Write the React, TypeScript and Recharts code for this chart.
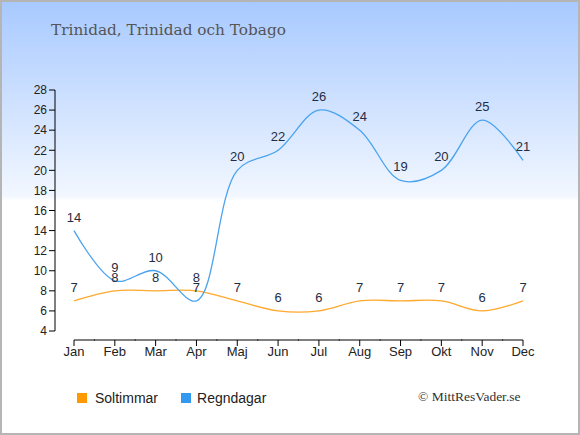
import React from "react";
import { LineChart, Line, XAxis, YAxis, LabelList } from "recharts";

const months = ["Jan", "Feb", "Mar", "Apr", "Maj", "Jun", "Jul", "Aug", "Sep", "Okt", "Nov", "Dec"];
const soltimmar = [7, 8, 8, 8, 7, 6, 6, 7, 7, 7, 6, 7];
const regndagar = [14, 9, 10, 7, 20, 22, 26, 24, 19, 20, 25, 21];
const yTicks = [4, 6, 8, 10, 12, 14, 16, 18, 20, 22, 24, 26, 28];

const data = months.map((m, i) => ({ month: m, sol: soltimmar[i], regn: regndagar[i] }));

const ORANGE_LINE = "#ffa92e";
const BLUE_LINE = "#4aa3ee";
const ORANGE_BOX = "#ff9900";
const BLUE_BOX = "#3399ee";
const LABEL_COLOR = "#1f2d45";

// Centripetal Catmull-Rom curve factory (alpha = 0.5)
function catmullRomCurve(context: any) {
  let pts: [number, number][] = [];
  const alpha = 0.5;
  const eps = 1e-12;
  return {
    areaStart() {},
    areaEnd() {},
    lineStart() {
      pts = [];
    },
    point(x: number, y: number) {
      pts.push([+x, +y]);
    },
    lineEnd() {
      const n = pts.length;
      if (!n) return;
      context.moveTo(pts[0][0], pts[0][1]);
      if (n === 1) return;
      if (n === 2) {
        context.lineTo(pts[1][0], pts[1][1]);
        return;
      }
      const d2a = (p: [number, number], q: [number, number]) => {
        const dx = p[0] - q[0];
        const dy = p[1] - q[1];
        return Math.pow(dx * dx + dy * dy, alpha);
      };
      for (let i = 0; i < n - 1; i++) {
        const p0 = i > 0 ? pts[i - 1] : null;
        const p1 = pts[i];
        const p2 = pts[i + 1];
        const p3 = i + 2 < n ? pts[i + 2] : null;
        const l12_2a = d2a(p1, p2);
        const l12_a = Math.sqrt(l12_2a);
        let c1x = p1[0];
        let c1y = p1[1];
        let c2x = p2[0];
        let c2y = p2[1];
        if (p0) {
          const l01_2a = d2a(p0, p1);
          const l01_a = Math.sqrt(l01_2a);
          if (l01_a > eps) {
            const a = 2 * l01_2a + 3 * l01_a * l12_a + l12_2a;
            const nn = 3 * l01_a * (l01_a + l12_a);
            c1x = (p1[0] * a - p0[0] * l12_2a + p2[0] * l01_2a) / nn;
            c1y = (p1[1] * a - p0[1] * l12_2a + p2[1] * l01_2a) / nn;
          }
        }
        if (p3) {
          const l23_2a = d2a(p2, p3);
          const l23_a = Math.sqrt(l23_2a);
          if (l23_a > eps) {
            const b = 2 * l23_2a + 3 * l23_a * l12_a + l12_2a;
            const m = 3 * l23_a * (l23_a + l12_a);
            c2x = (p2[0] * b + p1[0] * l23_2a - p3[0] * l12_2a) / m;
            c2y = (p2[1] * b + p1[1] * l23_2a - p3[1] * l12_2a) / m;
          }
        }
        context.bezierCurveTo(c1x, c1y, c2x, c2y, p2[0], p2[1]);
      }
    },
  };
}

const XTick = (props: any) => {
  const { x, y, payload, index } = props;
  const count = months.length;
  const half = 21;
  const ay = y + 9;
  const x1 = index === 0 ? x : x - half;
  const x2 = index === count - 1 ? x : x + half;
  return (
    <g>
      <line x1={x1} y1={ay} x2={x2} y2={ay} stroke="#000" strokeWidth={1} />
      <line x1={x} y1={ay} x2={x} y2={ay + 6} stroke="#000" strokeWidth={1} />
      <text
        x={x}
        y={y + 25}
        textAnchor="middle"
        fill="#222"
        fontSize={13}
        fontFamily="'Liberation Sans', Arial, sans-serif"
      >
        {payload.value}
      </text>
    </g>
  );
};

export default function App() {
  return (
    <div
      style={{
        position: "fixed",
        left: 0,
        top: 0,
        width: 580,
        height: 435,
        background: "linear-gradient(180deg, #a7c9ff 0px, #f2f7ff 196px, #ffffff 201px)",
        overflow: "hidden",
      }}
    >
      <div
        style={{
          position: "absolute",
          left: 51,
          top: 20,
          fontFamily: "'DejaVu Serif', serif",
          fontSize: 15.3,
          color: "#555",
          whiteSpace: "nowrap",
          lineHeight: "20px",
        }}
      >
        Trinidad, Trinidad och Tobago
      </div>

      <div style={{ position: "absolute", left: 0, top: 0 }}>
        <LineChart
          width={580}
          height={435}
          data={data}
          margin={{ top: 90, right: 38, left: 0, bottom: 74 }}
        >
          <XAxis
            dataKey="month"
            axisLine={false}
            tickLine={false}
            tickSize={0}
            tickMargin={0}
            height={30}
            padding={{ left: 19, right: 19 }}
            tick={<XTick />}
            interval={0}
          />
          <YAxis
            width={55}
            domain={[4, 28]}
            ticks={yTicks}
            interval={0}
            axisLine={{ stroke: "#000" }}
            tickLine={{ stroke: "#000" }}
            tickSize={6}
            tickMargin={2}
            tick={{ fill: "#222", fontSize: 12, fontFamily: "'Liberation Sans', Arial, sans-serif" }}
          />
          <Line
            dataKey="sol"
            type={catmullRomCurve as any}
            stroke={ORANGE_LINE}
            strokeWidth={1.3}
            dot={false}
            activeDot={false}
            isAnimationActive={false}
          >
            <LabelList
              dataKey="sol"
              position="top"
              offset={9}
              fill={LABEL_COLOR}
              fontSize={13}
              fontFamily="'Liberation Sans', Arial, sans-serif"
            />
          </Line>
          <Line
            dataKey="regn"
            type={catmullRomCurve as any}
            stroke={BLUE_LINE}
            strokeWidth={1.3}
            dot={false}
            activeDot={false}
            isAnimationActive={false}
          >
            <LabelList
              dataKey="regn"
              position="top"
              offset={9}
              fill={LABEL_COLOR}
              fontSize={13}
              fontFamily="'Liberation Sans', Arial, sans-serif"
            />
          </Line>
        </LineChart>
      </div>

      <div
        style={{
          position: "absolute",
          left: 77,
          top: 386,
          display: "flex",
          alignItems: "center",
          fontFamily: "'Liberation Sans', Arial, sans-serif",
          fontSize: 14,
          color: "#222",
          lineHeight: "24px",
          whiteSpace: "nowrap",
        }}
      >
        <span style={{ display: "inline-block", width: 10, height: 10, background: ORANGE_BOX, marginRight: 8 }} />
        <span>Soltimmar</span>
        <span style={{ display: "inline-block", width: 10, height: 10, background: BLUE_BOX, marginLeft: 23, marginRight: 6 }} />
        <span>Regndagar</span>
      </div>

      <div
        style={{
          position: "absolute",
          left: 418,
          top: 388,
          fontFamily: "'Liberation Serif', 'Times New Roman', serif",
          fontSize: 13.5,
          color: "#333",
          whiteSpace: "nowrap",
          lineHeight: "18px",
        }}
      >
        © MittResVader.se
      </div>

      <div
        style={{
          position: "absolute",
          left: 0,
          top: 0,
          width: 580,
          height: 435,
          boxSizing: "border-box",
          border: "2px solid #b5b5b5",
          pointerEvents: "none",
        }}
      />
    </div>
  );
}
